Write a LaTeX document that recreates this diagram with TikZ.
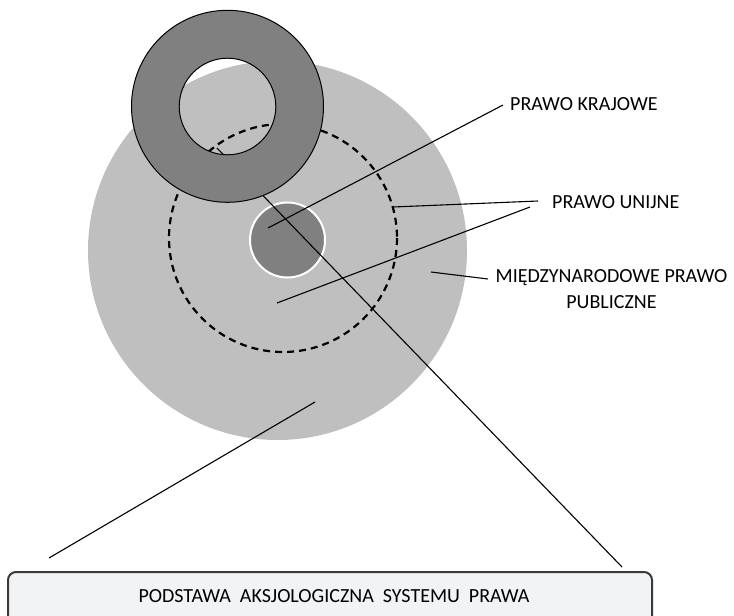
\documentclass[tikz,border=0pt]{standalone}
\usepackage{fontspec}
\setmainfont{Carlito}
\definecolor{lightg}{HTML}{BFBFBF}
\definecolor{darkg}{HTML}{808080}
\definecolor{boxfill}{HTML}{F2F3F5}
\definecolor{boxline}{HTML}{3A3A3A}
\begin{document}
\begin{tikzpicture}[x=1pt,y=-1pt,
  lbl/.style={font=\fontsize{20}{26}\selectfont, inner sep=0pt},
  conn/.style={draw=black, line width=1.1pt},
  ringstyle/.style={fill=darkg, draw=black, line width=1pt, even odd rule}]
\useasboundingbox (0,0) rectangle (734,616);
\clip (0,0) rectangle (734,616);
% large circle: international public law
\fill[lightg] (277.5,250.5) circle[radius=189.5];
% dashed circle: EU law
\draw[black, line width=2.2pt, dash pattern=on 7pt off 5pt] (283,238) circle[radius=114];
% small circle: national law
\draw[fill=darkg, draw=white, line width=2pt] (287.5,240) circle[radius=37.5];
% named end points
\coordinate (kA) at (268,228);
\coordinate (kB) at (503,105);
\coordinate (uA) at (393,207);
\coordinate (uB) at (538,201);
\coordinate (uC) at (277,303);
\coordinate (uD) at (530,207);
\coordinate (mA) at (431,272);
\coordinate (mB) at (488,279);
\coordinate (bA) at (315,402);
\coordinate (bB) at (49,558);
\coordinate (cA) at (217,148);
\coordinate (cB) at (622,567);
% labels
\node[lbl, anchor=base west] (krajowe) at (510,110) {PRAWO KRAJOWE};
\node[lbl, anchor=base west] (unijne) at (552,208) {PRAWO UNIJNE};
\node[lbl, anchor=base, align=center] (miedzy) at (611.5,308) {MIĘDZYNARODOWE PRAWO\\PUBLICZNE};
% bottom box
\draw[fill=boxfill, draw=boxline, line width=2pt, rounded corners=8pt] (8,572) rectangle (652,640);
\node[lbl, anchor=base] (podstawa) at (334,602) {PODSTAWA\ \ AKSJOLOGICZNA\ \ SYSTEMU\ \ PRAWA};
% connectors
\draw[conn] (kA) -- (kB);
\draw[conn] (uA) -- (uB);
\draw[conn] (uC) -- (uD);
\draw[conn] (mA) -- (mB);
\draw[conn] (bA) -- (bB);
\draw[conn] (cA) -- (cB);
% ring on top
\path[ringstyle] (227.5,106.3) circle[radius=96] (227.5,106.5) circle[radius=48.3];
\end{tikzpicture}
\end{document}
